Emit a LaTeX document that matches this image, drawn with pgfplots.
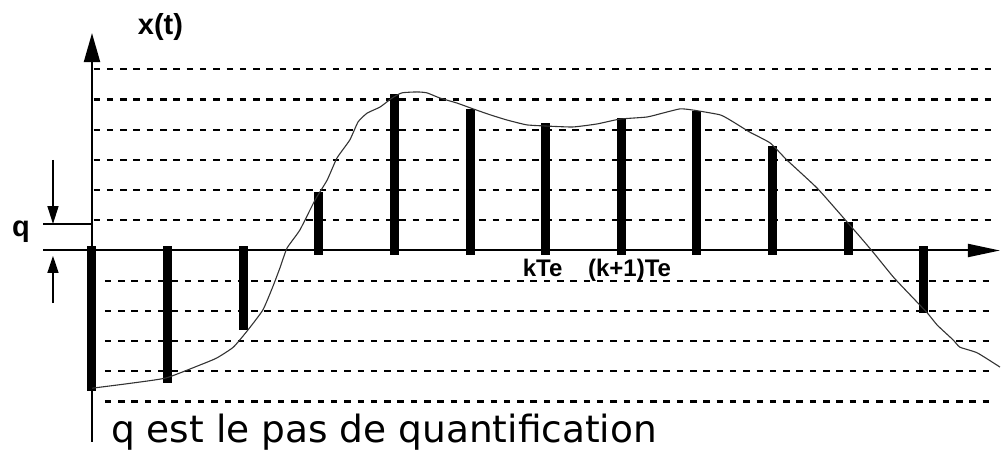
\documentclass[border=0pt]{standalone}
\usepackage{pgfplots}
\pgfplotsset{compat=1.18}
\usepackage{fontspec}
\setmainfont{DejaVu Sans}
\newfontfamily\labfont{Liberation Sans}
\usetikzlibrary{arrows.meta}

% sampled values x(kTe), in units of the quantization step q
\pgfplotstableread{
t   x
0   -4.50
1   -4.24
2   -2.48
3    1.79
4    5.02
5    4.53
6    4.08
7    4.23
8    4.48
9    3.31
10   0.80
11  -1.93
}\samples

% continuous signal x(t)
\pgfplotstableread{
t      x
0.00  -4.56
0.50  -4.40
0.98  -4.22
1.43  -3.79
1.65  -3.56
1.87  -3.20
2.06  -2.64
2.26  -1.97
2.39  -1.21
2.49  -0.55
2.58   0.08
2.75   0.68
2.95   1.67
3.11   2.33
3.24   3.06
3.41   3.66
3.52   4.26
3.64   4.55
3.81   4.75
3.97   5.05
4.10   5.22
4.30   5.25
4.43   5.22
4.60   5.05
4.83   4.88
5.04   4.69
5.27   4.49
5.49   4.32
5.75   4.16
6.02   4.12
6.36   4.09
6.68   4.19
6.98   4.35
7.34   4.42
7.55   4.55
7.78   4.69
7.95   4.65
8.31   4.49
8.48   4.26
8.70   3.92
8.97   3.56
9.19   3.00
9.59   2.07
9.93   1.11
10.16  0.45
10.33 -0.05
10.60 -0.88
10.86 -1.57
11.05 -2.07
11.18 -2.47
11.39 -2.96
11.48 -3.20
11.71 -3.39
12.01 -3.86
}\signal

\begin{document}
\begin{tikzpicture}
\begin{axis}[
  x=75.6pt, y=30.2pt,
  xmin=-1.2169, xmax=12.0767,
  ymin=-6.6722, ymax=8.2947,
  hide axis, clip=false,
]
\path (rel axis cs:0,0) rectangle (rel axis cs:1,1);

% quantization levels
\pgfplotsinvokeforeach{1,...,6}{
  \addplot[black, line width=2.2pt, dash pattern=on 6.5pt off 6.8pt]
    coordinates {(0.02,#1) (11.89,#1)};
}
\pgfplotsinvokeforeach{-5,...,-1}{
  \addplot[black, line width=2.2pt, dash pattern=on 6.5pt off 6.8pt]
    coordinates {(0.17,#1) (11.89,#1)};
}

% axes
\draw[line width=2pt, -{Triangle[length=32pt,width=13pt]}]
  (axis cs:-0.648,0) -- (axis cs:12.01,0);
\draw[line width=2pt, -{Triangle[length=29pt,width=16pt]}]
  (axis cs:0,-6.34) -- (axis cs:0,7.20);

% samples
\addplot[ycomb, black, line width=9pt, line cap=rect, mark=none] table[x=t, y=x] {\samples};

% signal
\addplot[black!80, line width=1.1pt, smooth, tension=0.3] table[x=t, y=x] {\signal};

% step q
\draw[line width=1.6pt] (axis cs:-0.648,0.877) -- (axis cs:0,0.877);
\draw[line width=1.6pt, -{Triangle[length=18pt,width=11pt]}]
  (axis cs:-0.516,3.0) -- (axis cs:-0.516,0.877);
\draw[line width=1.6pt, -{Triangle[length=17pt,width=11pt]}]
  (axis cs:-0.516,-1.74) -- (axis cs:-0.516,-0.18);

% labels
\node[anchor=base, inner sep=0pt, font=\labfont\bfseries\fontsize{29}{34}\selectfont]
  at (axis cs:0.906,7.136) {x(t)};
\node[anchor=base, inner sep=0pt, font=\labfont\bfseries\fontsize{29}{34}\selectfont]
  at (axis cs:-0.939,0.447) {q};
\node[anchor=base, inner sep=0pt, font=\labfont\bfseries\fontsize{24}{28}\selectfont]
  at (axis cs:5.96,-0.877) {kTe};
\node[anchor=base, inner sep=0pt, font=\labfont\bfseries\fontsize{24}{28}\selectfont]
  at (axis cs:7.11,-0.877) {(k+1)Te};
\node[anchor=base west, inner sep=0pt, font=\fontsize{37.5}{44}\selectfont]
  at (axis cs:0.251,-6.374) {q est le pas de quantification};
\end{axis}
\end{tikzpicture}
\end{document}
